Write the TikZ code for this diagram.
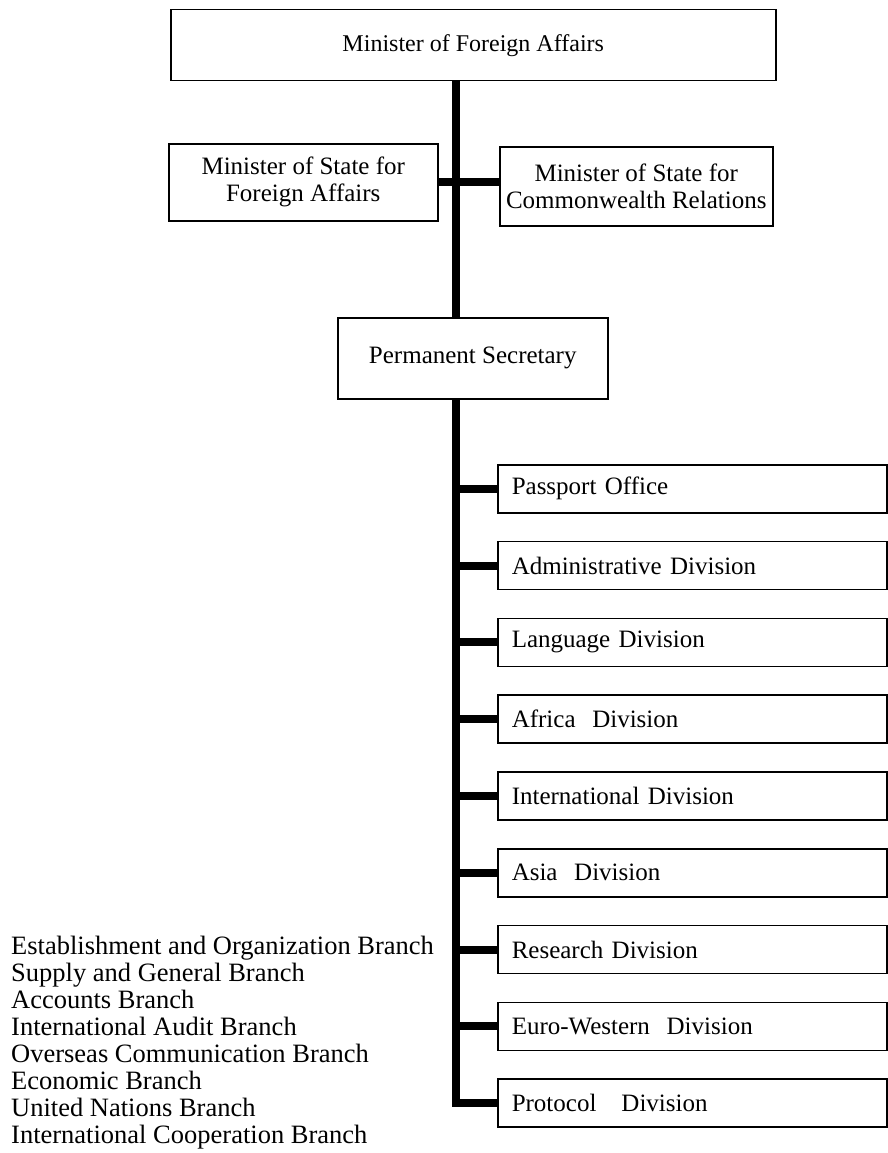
\documentclass[tikz,border=0pt]{standalone}
\usepackage{fontspec}
\setmainfont{Liberation Serif}

\begin{document}
\begin{tikzpicture}[x=1pt,y=-1pt, % <- one unit is one pixel, y runs down
   box/.style={draw, line width=1.5pt, inner sep=0pt, align=center,
      font=\fontsize{25}{27}\selectfont},
   division/.style={box, anchor=north west, minimum height=48pt,
      text width=361pt, inner xsep=14pt, align=left},
   link/.style={line width=8pt}]
   \useasboundingbox (0,0) rectangle (887,1153);
   % Ministers
   \node[box, anchor=north west, minimum width=605pt, minimum height=71pt,
      font=\fontsize{24}{27}\selectfont] (mfa) at (170,9) {Minister of Foreign Affairs};
   \node[box, anchor=north west, minimum width=269pt, minimum height=77pt] (msfa) at (168,143)
      {Minister of State for\\Foreign Affairs};
   \node[box, anchor=north west, minimum width=273pt, minimum height=79pt] (mscr) at (499,146)
      {Minister of State for\\Commonwealth Relations};
   \node[box, anchor=north west, minimum width=270pt, minimum height=81pt] (ps) at (337,317)
      {Permanent Secretary};
   % Divisions
   \foreach \n/\t [count=\i from 0] in {po/Passport Office, ad/Administrative Division,
      ld/Language Division, afd/Africa\ \ Division, intd/International Division,
      asd/Asia\ \ Division, rd/Research Division, ewd/Euro-Western\ \ Division,
      prd/Protocol\ \ \ Division}
      \node[division] (\n) at (497,{464+76.8*\i}) {\t};
   % Spine
   \coordinate (spine) at (456,0);
   \draw[link] (spine |- mfa.south) -- (spine |- ps.north);
   \draw[link] (msfa.east) -- (mscr.west |- msfa.east);
   \draw[link, line join=miter] (spine |- ps.south) -- (spine |- prd.west) -- (prd.west);
   \foreach \n in {po,ad,ld,afd,intd,asd,rd,ewd}
      \draw[link] (spine |- \n.west) -- (\n.west);
   % Branches
   \node[anchor=north west, inner sep=0pt, align=left,
      font=\fontsize{26.5}{27}\selectfont] (branches) at (11,936)
      {Establishment and Organization Branch\\
       Supply and General Branch\\
       Accounts Branch\\
       International Audit Branch\\
       Overseas Communication Branch\\
       Economic Branch\\
       United Nations Branch\\
       International Cooperation Branch};
\end{tikzpicture}
\end{document}
